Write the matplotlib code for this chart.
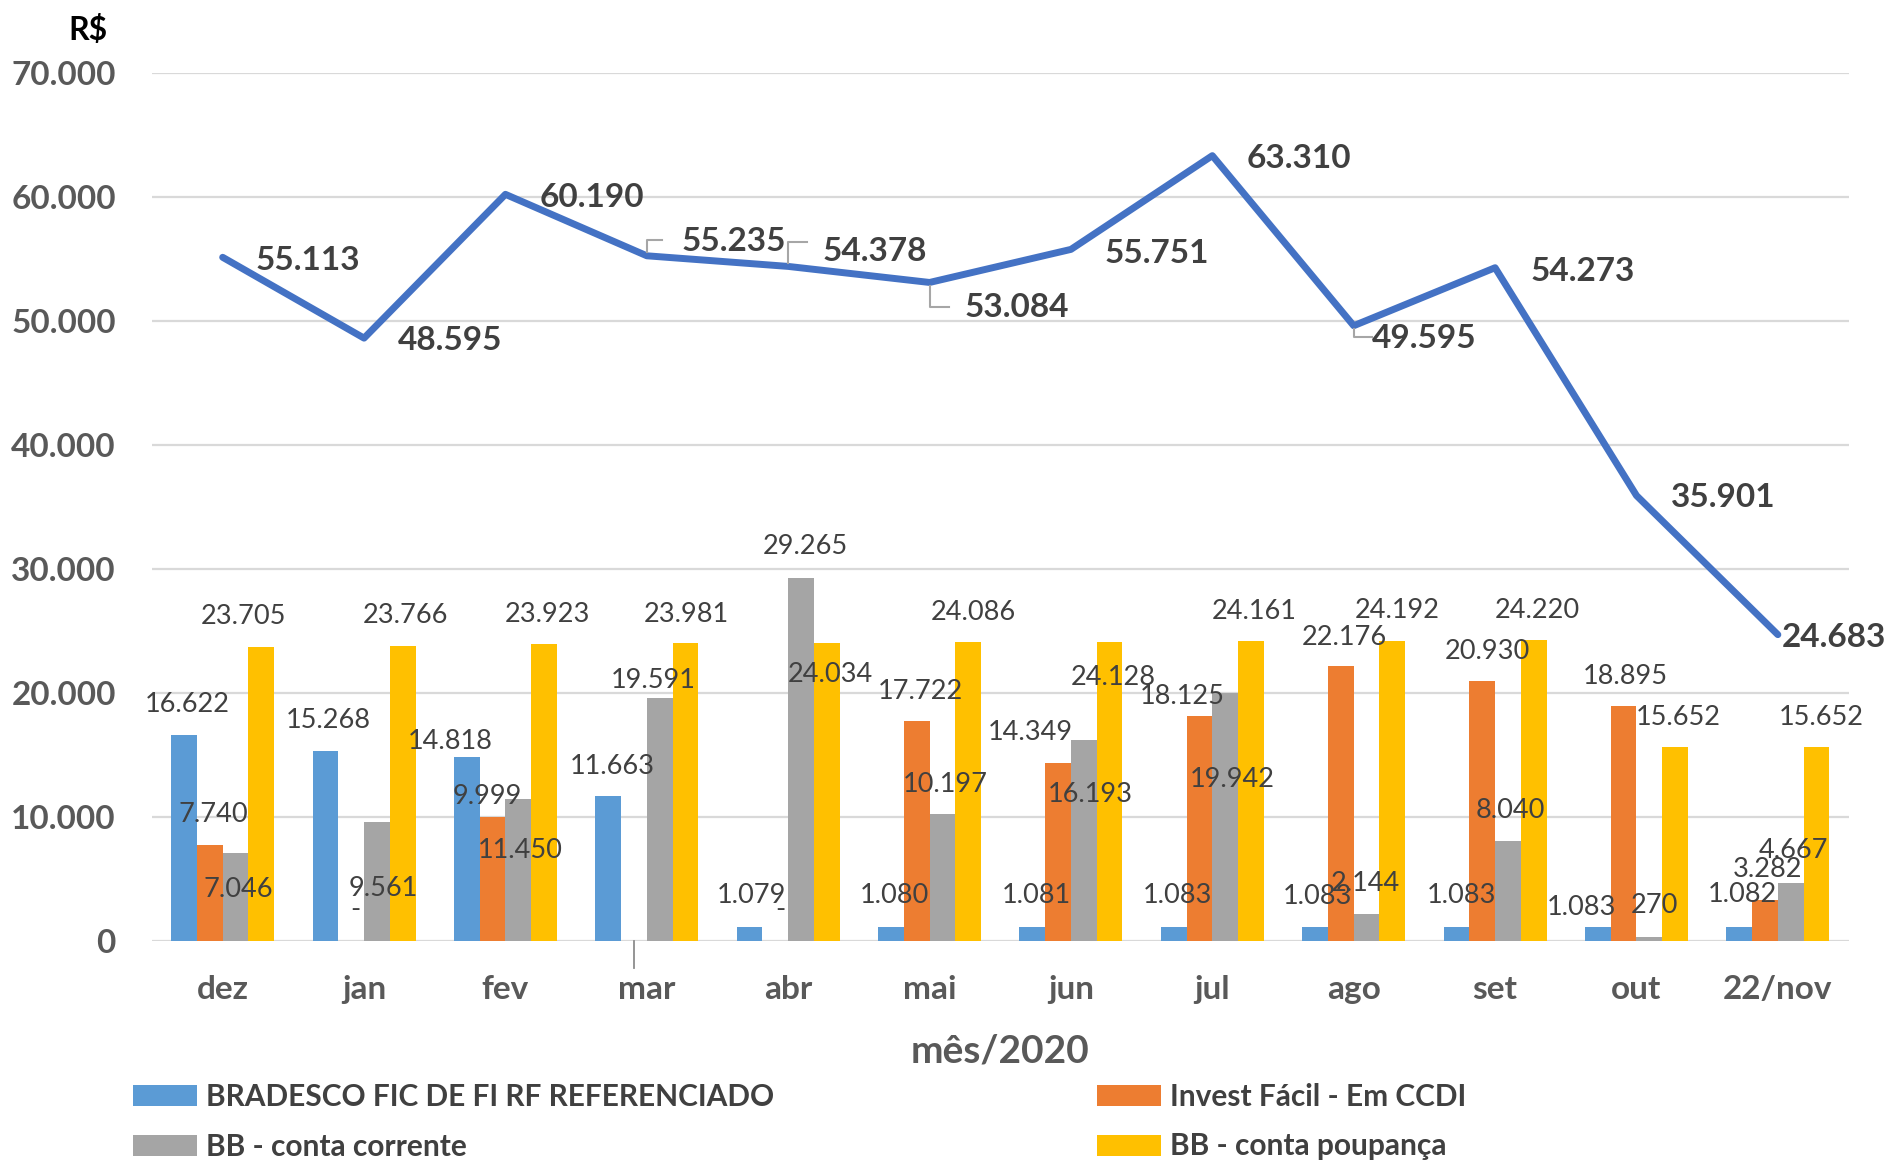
import matplotlib
matplotlib.use("Agg")
import matplotlib.pyplot as plt
import numpy as np

plt.rcParams['font.family'] = ['Lato', 'DejaVu Sans']

# ---------------- data ----------------
months = ["dez", "jan", "fev", "mar", "abr", "mai", "jun", "jul", "ago", "set", "out", "22/nov"]
bradesco = [16622, 15268, 14818, 11663, 1079, 1080, 1081, 1083, 1083, 1083, 1083, 1082]
invest = [7740, 0, 9999, 0, 0, 17722, 14349, 18125, 22176, 20930, 18895, 3282]
bb_corrente = [7046, 9561, 11450, 19591, 29265, 10197, 16193, 19942, 2144, 8040, 270, 4667]
bb_poupanca = [23705, 23766, 23923, 23981, 24034, 24086, 24128, 24161, 24192, 24220, 15652, 15652]
total = [55113, 48595, 60190, 55235, 54378, 53084, 55751, 63310, 49595, 54273, 35901, 24683]
series_names = ["BRADESCO FIC DE FI RF REFERENCIADO", "Invest Fácil - Em CCDI",
                "BB - conta corrente", "BB - conta poupança"]
yticks = [0, 10000, 20000, 30000, 40000, 50000, 60000, 70000]

# ---------------- styles / label placement ----------------
colors = ["#5B9BD5", "#ED7D31", "#A5A5A5", "#FFC000"]
line_color = "#4472C4"
bar_w = 0.182
bar_off = [-0.273, -0.091, 0.091, 0.273]

# label offsets: dx (category units from category centre), dy (data units from bar top)
lab_dx = [
    [-0.252, -0.25, -0.39, -0.242, -0.261, -0.246, -0.245, -0.249, -0.254, -0.24, -0.392, -0.25],
    [-0.068, -0.061, -0.127, None, -0.058, -0.062, -0.286, -0.211, -0.069, -0.054, -0.076, -0.07],
    [0.108, 0.134, 0.108, 0.045, 0.12, 0.111, 0.139, 0.141, 0.083, 0.11, 0.126, 0.11],
    [0.149, 0.296, 0.298, 0.28, 0.299, 0.308, 0.296, 0.298, 0.305, 0.3, 0.298, 0.305],
]
lab_dy = [
    [2432, 2498, 1232, 2425, 2543, 2542, 2541, 2539, 2459, 2539, 1601, 2678],
    [2403, 2495, 1673, None, 2550, 2403, 2421, 1597, 2296, 2415, 2437, 2490],
    [-2884, -5375, -4149, 1395, 2500, 2417, -4385, -6925, 2469, 2425, 2548, 2578],
    [2455, 2452, 2377, 2319, -2564, 2344, -2928, 2404, 2428, 2400, 2324, 2324],
]
line_dx = [0.603, 0.607, 0.612, 0.617, 0.613, 0.618, 0.605, 0.61, 0.496, 0.62, 0.616, 0.40]
line_dy = [-283, -158, -218, 1147, 1231, -2031, -335, -238, -1062, -313, -159, -211]


def fmt(v):
    if v == 0:
        return "-"
    return f"{v:,.0f}".replace(",", ".")


fig = plt.figure(figsize=(18.88, 11.63), dpi=100)
ax = fig.add_axes([0.0805, 0.1911, 0.8986, 0.7464])

x = np.arange(len(months))
all_series = [bradesco, invest, bb_corrente, bb_poupanca]
handles = []
for k, (vals, c, name) in enumerate(zip(all_series, colors, series_names)):
    h = ax.bar(x + bar_off[k], vals, width=bar_w, color=c, label=name, zorder=2)
    handles.append(h)
    for i, v in enumerate(vals):
        if lab_dx[k][i] is None:
            continue
        ax.text(i + lab_dx[k][i], v + lab_dy[k][i], fmt(v), ha="center", va="center",
                fontsize=19.5, color="#404040", zorder=4)

# special zero label for invest/mar with leader below axis
i_mar = months.index("mar")
ax.plot([i_mar + bar_off[1], i_mar + bar_off[1]], [0, -2200], color="#8C8C8C", lw=1.3,
        clip_on=False, zorder=4)
ax.text(i_mar + bar_off[1] + 0.02, -3500, fmt(invest[i_mar]), ha="center", va="center",
        fontsize=19.5, color="#404040", clip_on=False)

# total line
ax.plot(x, total, color=line_color, lw=5, solid_joinstyle="round", solid_capstyle="round",
        zorder=3)
for i, v in enumerate(total):
    ax.text(i + line_dx[i], v + line_dy[i], fmt(v), ha="center", va="center",
            fontsize=24, fontweight="bold", color="#404040", zorder=5)

# leader lines for some line labels
leaders = {3: (56500, 0.11), 4: (56350, 0.13), 5: (51118, 0.14), 8: (48700, 0.13)}
for i, (ly, lx) in leaders.items():
    ax.plot([i, i, i + lx], [total[i] + (300 if ly > total[i] else -300), ly, ly],
            color="#A6A6A6", lw=1.5, zorder=4)

ax.set_xlim(-0.5, len(months) - 0.5)
ax.set_ylim(0, 70000)
ax.set_yticks(yticks)
ax.set_yticklabels([fmt(t) if t else "0" for t in yticks])
ax.set_xticks(x)
ax.set_xticklabels(months)
ax.tick_params(axis="y", length=0, pad=26, labelsize=24, labelcolor="#595959")
ax.tick_params(axis="x", length=0, pad=25, labelsize=24, labelcolor="#595959")
for lab in ax.get_yticklabels() + ax.get_xticklabels():
    lab.set_fontweight("bold")
ax.yaxis.grid(True, color="#D9D9D9", lw=1.6, zorder=0)
ax.set_axisbelow(True)
for s in ax.spines.values():
    s.set_visible(False)

ax.set_xlabel("mês/2020", fontsize=28, fontweight="bold", color="#595959", labelpad=21)
fig.text(88 / 1888, 1 - 30 / 1163, "R$", ha="center", va="center", fontsize=23,
         fontweight="bold", color="black")

leg = fig.legend([handles[0], handles[2], handles[1], handles[3]],
                 [series_names[0], series_names[2], series_names[1], series_names[3]],
                 loc="upper left", bbox_to_anchor=(133 / 1888, 1 - 1083 / 1163), ncol=2,
                 frameon=False, fontsize=21.5, handlelength=2.15, handleheight=0.7,
                 handletextpad=0.3, labelspacing=0.72, columnspacing=10.8, borderpad=0,
                 borderaxespad=0)
for t in leg.get_texts():
    t.set_fontweight("bold")
    t.set_color("#404040")

fig.savefig("out.png", dpi=100, facecolor="white")
